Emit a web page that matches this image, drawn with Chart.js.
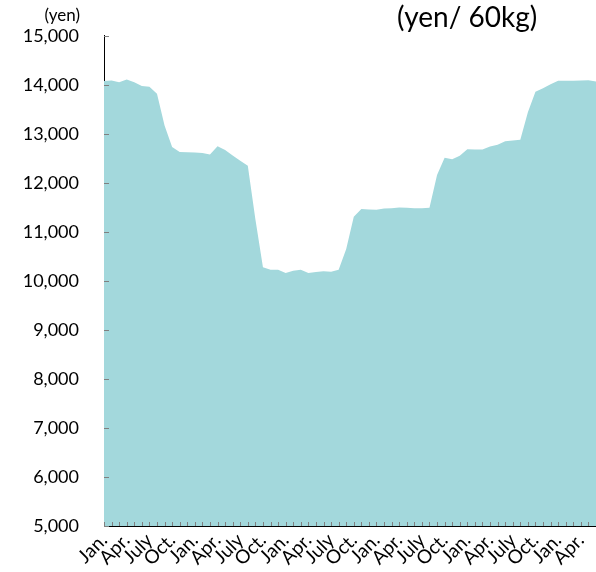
<!DOCTYPE html>
<html>
<head>
<meta charset="utf-8">
<script src="https://cdn.jsdelivr.net/npm/chart.js@4"></script>
<style>
  html, body { margin: 0; padding: 0; background: #fff; }
  #wrap { width: 596px; height: 572px; }
</style>
</head>
<body>
<div id="wrap"><canvas id="priceChart" width="596" height="572"></canvas></div>
<script>
// quarter names shown under every third month
const quarterNames = ["Jan.", "Apr.", "July", "Oct."];

// monthly price (yen / 60kg), Jan. of year 1 through June of year 6
const prices = [
  14080, 14090, 14050, 14110, 14050, 13975, 13960, 13820, 13170, 12730, 12630, 12625,
  12620, 12610, 12580, 12745, 12670, 12560, 12450, 12350, 11260, 10280, 10230, 10225,
  10160, 10205, 10225, 10160, 10180, 10195, 10185, 10230, 10650, 11310, 11465, 11455,
  11450, 11475, 11480, 11495, 11490, 11480, 11480, 11490, 12160, 12510, 12480, 12555,
  12685, 12680, 12678, 12740, 12775, 12848, 12862, 12877, 13440, 13858, 13930, 14010,
  14082, 14085, 14085, 14090, 14093, 14068
];

const yMin = 5000;
const yMax = 15000;
const yStep = 1000;

const months = prices.map((v, i) => (i % 3 === 0 ? quarterNames[(i / 3) % 4] : ""));

// small tick marks drawn inside the plot, like the original
const innerTicks = {
  id: "innerTicks",
  afterDatasetsDraw(chart) {
    const { ctx, chartArea, scales } = chart;
    ctx.save();
    ctx.strokeStyle = "#808080";
    ctx.lineWidth = 1;
    ctx.beginPath();
    months.forEach((m, i) => {
      const x = Math.round(scales.x.getPixelForValue(i)) + 0.5;
      ctx.moveTo(x, chartArea.bottom);
      ctx.lineTo(x, chartArea.bottom - 4);
    });
    for (let v = yMin; v <= yMax; v += yStep) {
      const y = Math.round(scales.y.getPixelForValue(v)) + 0.5;
      ctx.moveTo(chartArea.left, y);
      ctx.lineTo(chartArea.left + 5, y);
    }
    ctx.stroke();
    ctx.restore();
  }
};

const headings = {
  id: "headings",
  afterDraw(chart) {
    const { ctx } = chart;
    ctx.save();
    ctx.fillStyle = "#000";
    ctx.textBaseline = "alphabetic";
    ctx.font = "17px Lato";
    ctx.textAlign = "right";
    ctx.fillText("(yen)", 80, 21);
    ctx.font = "28px Lato";
    ctx.textAlign = "left";
    ctx.fillText("(yen/ 60kg)", 397, 27);
    ctx.restore();
  }
};

new Chart(document.getElementById("priceChart"), {
  type: "line",
  data: {
    labels: months,
    datasets: [
      {
        data: prices,
        fill: "start",
        backgroundColor: "#a3d8dc",
        borderWidth: 0,
        pointRadius: 0,
        tension: 0,
      },
    ],
  },
  options: {
    responsive: false,
    animation: false,
    layout: { padding: { top: 27, right: 0, left: 0, bottom: 0 } },
    plugins: {
      legend: { display: false },
      tooltip: { enabled: false },
    },
    scales: {
      x: {
        offset: false,
        grid: { display: false, drawTicks: false },
        border: { display: true, color: "#000", width: 1 },
        ticks: {
          autoSkip: false,
          maxRotation: 45,
          minRotation: 45,
          padding: 3,
          color: "#000",
          font: { family: "Lato", size: 19 },
        },
        afterFit(scale) {
          scale.height = 46;
          scale.paddingRight = 0;
        },
      },
      y: {
        min: yMin,
        max: yMax,
        grid: { display: false, drawTicks: false },
        border: { display: true, color: "#000", width: 1 },
        ticks: {
          stepSize: yStep,
          padding: 25,
          color: "#000",
          font: { family: "Lato", size: 18 },
          callback: (v) => v.toLocaleString("en-US"),
        },
        afterFit(scale) { scale.width = 104; },
      },
    },
  },
  plugins: [innerTicks, headings],
});
</script>
</body>
</html>
